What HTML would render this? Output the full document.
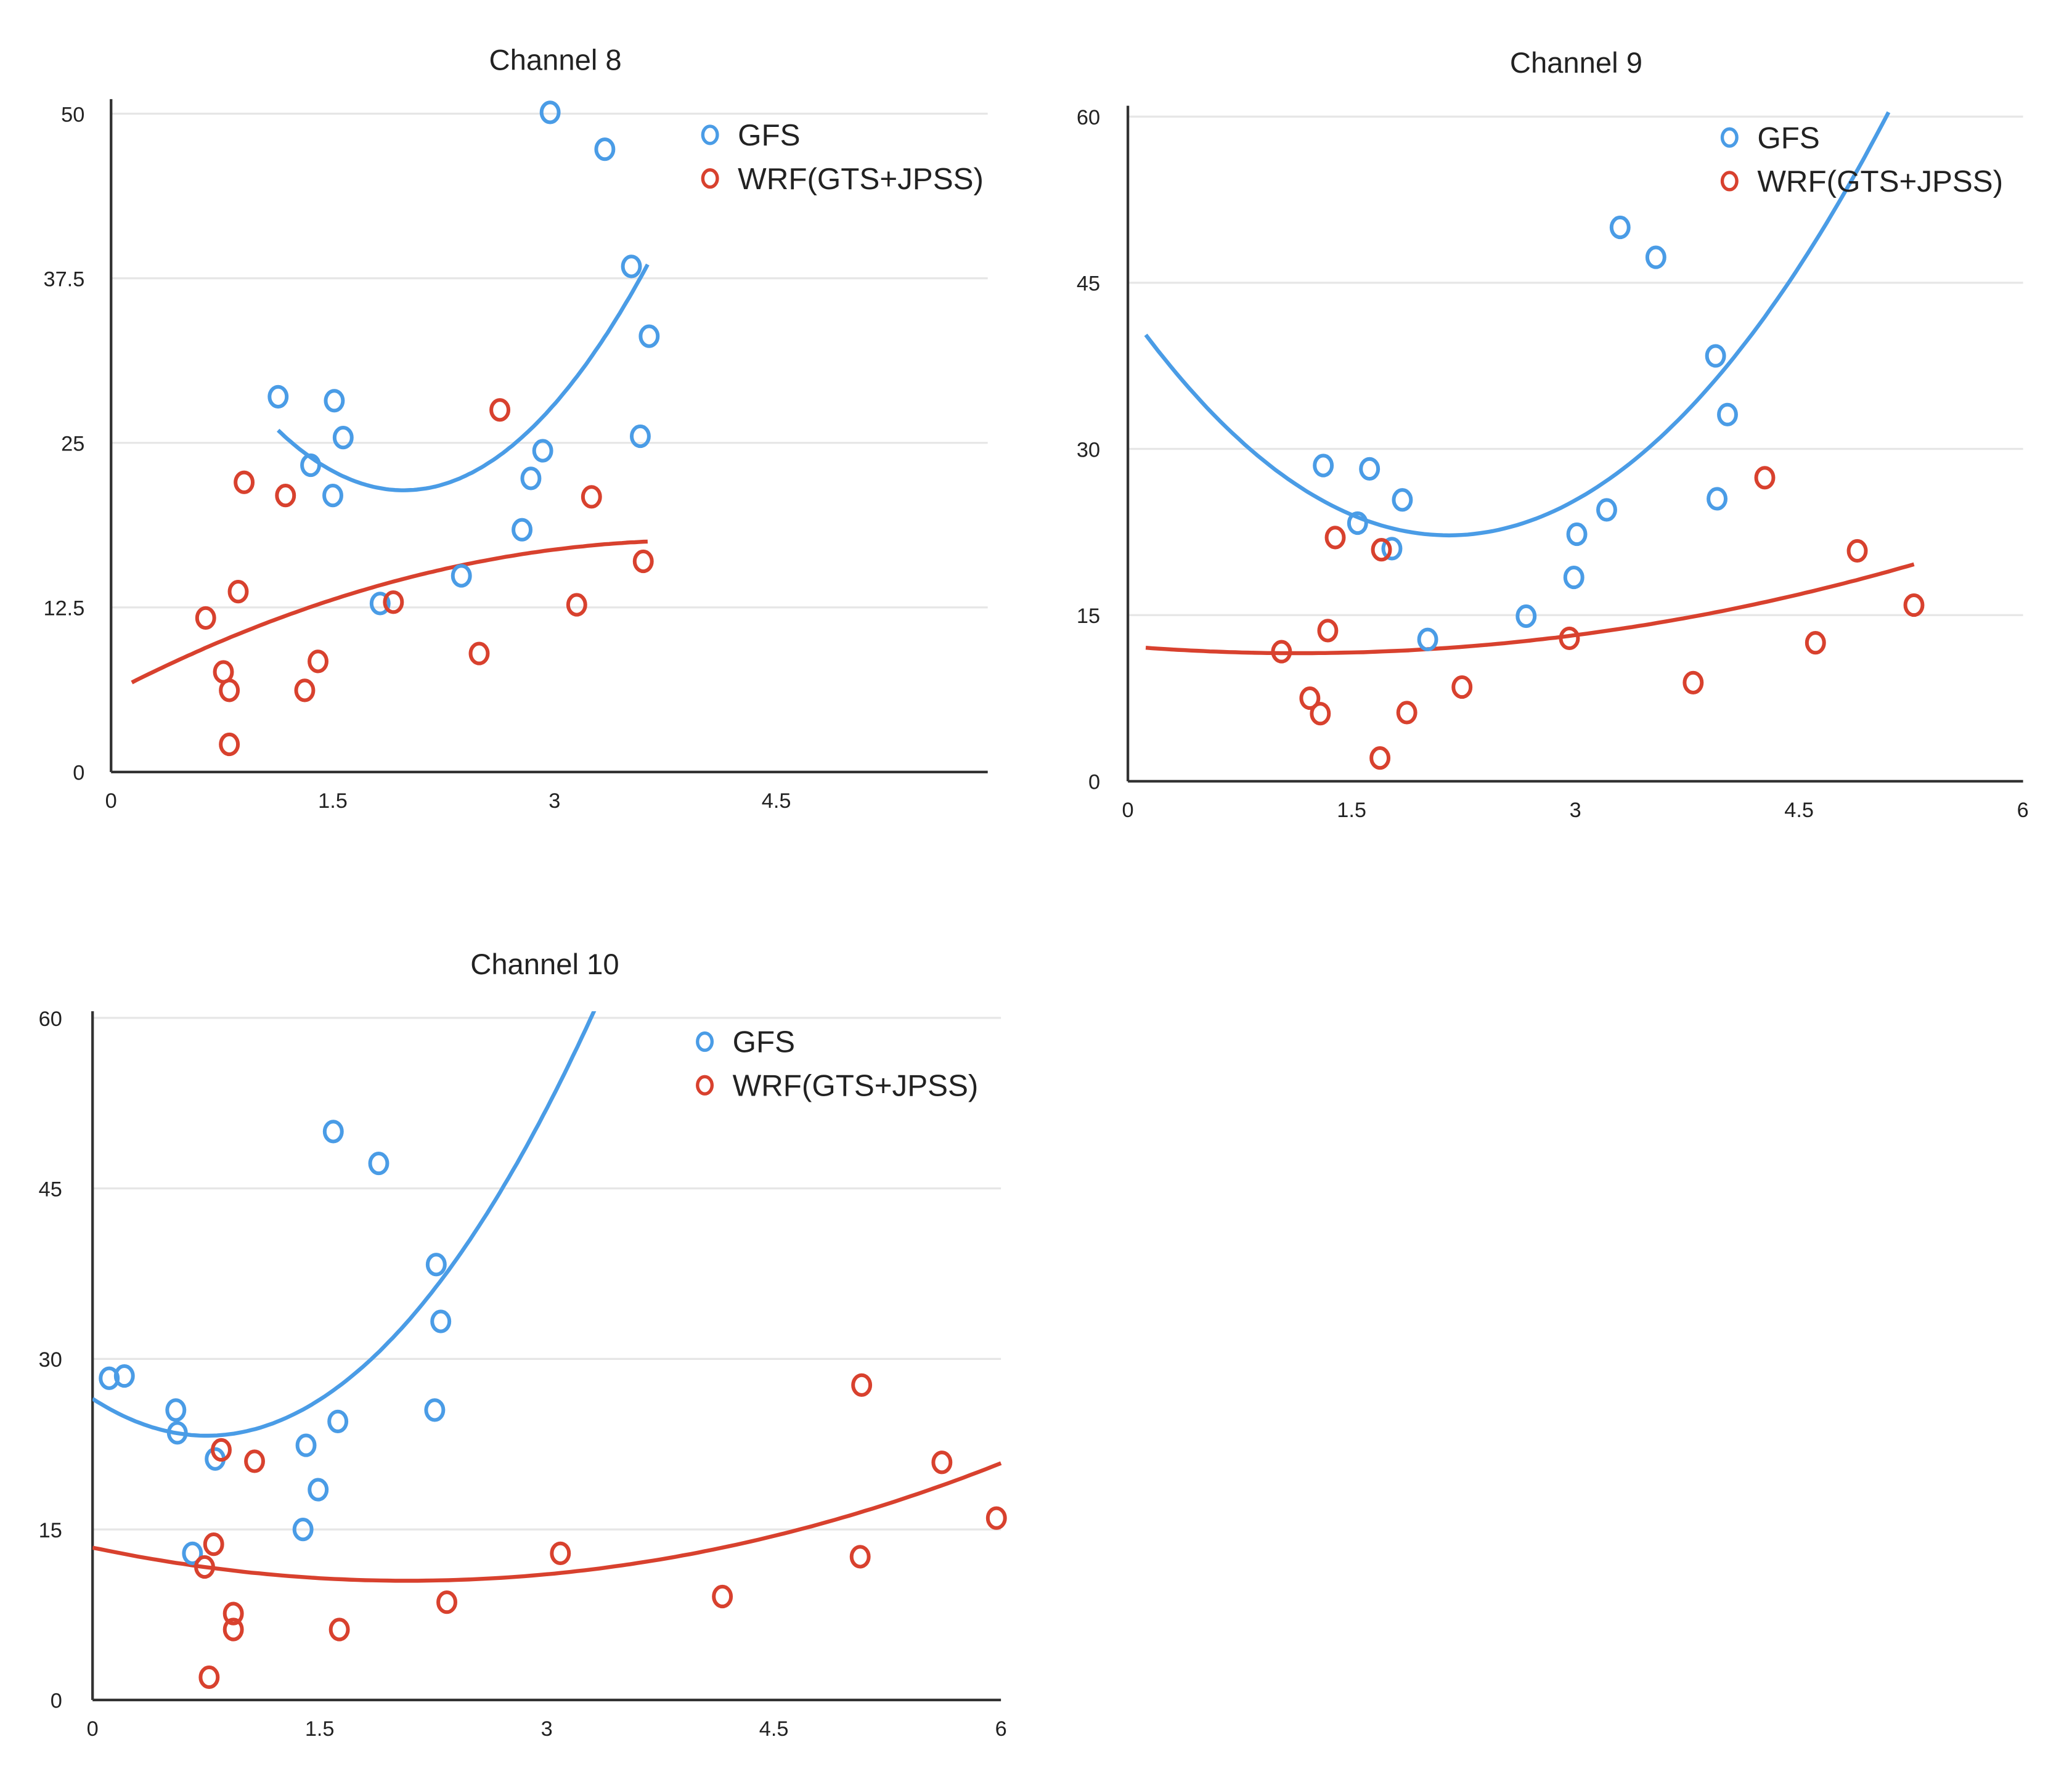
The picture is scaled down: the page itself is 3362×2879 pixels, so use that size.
<!DOCTYPE html>
<html><head><meta charset="utf-8">
<style>
html,body{margin:0;padding:0;background:#fff;}
svg{display:block;}
text{font-family:"Liberation Sans",sans-serif;fill:#222;}
</style></head>
<body>
<svg id="fig" width="3362" height="2879" viewBox="0 0 1567 1342" preserveAspectRatio="none" xmlns="http://www.w3.org/2000/svg"></svg>
<script>
// ---- Channel 8 data ----
const ch8GfsX = [1.13,1.51,1.57,1.35,1.50,1.82,2.37,2.78,2.84,2.92,2.97,3.34,3.52,3.64,3.58];
const ch8GfsY = [28.5,28.2,25.4,23.3,21.0,12.8,14.9,18.4,22.3,24.4,50.1,47.3,38.4,33.1,25.5];
const ch8WrfX = [0.90,1.18,0.64,0.86,0.76,0.80,0.80,1.31,1.40,1.91,2.49,2.63,3.15,3.25,3.60];
const ch8WrfY = [22.0,21.0,11.7,13.7,7.6,6.2,2.1,6.2,8.4,12.9,9.0,27.5,12.7,20.9,16.0];
const ch8GfsTrend = [46.1,-24.95,6.3];
const ch8WrfTrend = [6.0,5.83,-0.733];
const ch8XTicks = ["0","1.5","3","4.5"];
const ch8YTicks = ["0","12.5","25","37.5","50"];
// ---- Channel 9 data ----
const ch9GfsX = [1.31,1.62,1.84,1.54,1.77,2.01,2.67,2.99,3.01,3.21,3.30,3.54,3.94,4.02,3.95];
const ch9GfsY = [28.5,28.2,25.4,23.3,21.0,12.8,14.9,18.4,22.3,24.5,50.0,47.3,38.4,33.1,25.5];
const ch9WrfX = [1.39,1.70,1.03,1.34,1.22,1.29,1.69,1.87,2.24,2.96,3.79,4.27,4.61,4.89,5.27];
const ch9WrfY = [22.0,20.9,11.7,13.6,7.5,6.1,2.1,6.2,8.5,12.9,8.9,27.4,12.5,20.8,15.9];
const ch9GfsTrend = [42.5,-18.88,4.39];
const ch9WrfTrend = [12.17,-1.07,0.47];
const ch9XTicks = ["0","1.5","3","4.5","6"];
const ch9YTicks = ["0","15","30","45","60"];
// ---- Channel 10 data ----
const ch10GfsX = [0.11,0.21,0.55,0.56,0.81,0.66,1.39,1.49,1.41,1.62,1.59,1.89,2.27,2.30,2.26];
const ch10GfsY = [28.3,28.5,25.5,23.5,21.2,12.9,15.0,18.5,22.4,24.5,50.0,47.2,38.3,33.3,25.5];
const ch10WrfX = [0.85,1.07,0.74,0.80,0.93,0.93,0.77,1.63,2.34,3.09,4.16,5.08,5.07,5.61,5.97];
const ch10WrfY = [22.0,21.0,11.7,13.7,7.6,6.2,2.0,6.2,8.6,12.9,9.1,27.7,12.6,20.9,16.0];
const ch10GfsTrend = [26.5,-8.62,5.71];
const ch10WrfTrend = [13.4,-2.80,0.673];
const ch10XTicks = ["0","1.5","3","4.5","6"];
const ch10YTicks = ["0","15","30","45","60"];

const NS="http://www.w3.org/2000/svg";
const svg=document.getElementById('fig');
const BLUE="#4a9ce6", RED="#d8412e";
function mk(tag,attrs,parent){const e=document.createElementNS(NS,tag);for(const k in attrs)e.setAttribute(k,attrs[k]);(parent||svg).appendChild(e);return e;}

const charts=[
 {id:'ch8',title:'Channel 8',tx:420,ty:53,x0:84,xw:111.8,xMax:4.5,y0:584,yh:9.96,yMax:50,axisRight:747,axisTop:75,gridRight:747,xTickY:611,yTickX:64,
  gx:ch8GfsX,gy:ch8GfsY,wx:ch8WrfX,wy:ch8WrfY,gt:ch8GfsTrend,wt:ch8WrfTrend,gr:[1.13,3.63],wr:[0.14,3.63],xt:ch8XTicks,yt:ch8YTicks,
  lx:537,ly:102,legClip:746},
 {id:'ch9',title:'Channel 9',tx:1192,ty:55,x0:853,xw:112.8,xMax:6,y0:591,yh:8.38,yMax:60,axisRight:1530,axisTop:80,gridRight:1530,xTickY:618,yTickX:832,
  gx:ch9GfsX,gy:ch9GfsY,wx:ch9WrfX,wy:ch9WrfY,gt:ch9GfsTrend,wt:ch9WrfTrend,gr:[0.12,5.1],wr:[0.12,5.27],xt:ch9XTicks,yt:ch9YTicks,
  lx:1308,ly:104,legClip:2000},
 {id:'ch10',title:'Channel 10',tx:412,ty:737,x0:70,xw:114.5,xMax:6,y0:1286,yh:8.6,yMax:60,axisRight:757,axisTop:765,gridRight:757,xTickY:1313,yTickX:47,
  gx:ch10GfsX,gy:ch10GfsY,wx:ch10WrfX,wy:ch10WrfY,gt:ch10GfsTrend,wt:ch10WrfTrend,gr:[0,3.4],wr:[0,6],xt:ch10XTicks,yt:ch10YTicks,
  lx:533,ly:788,legClip:2000}
];

charts.forEach(c=>{
 const g=mk('g',{});
 
 
 const X=v=>c.x0+v*c.xw, Y=v=>c.y0-v*c.yh;
 const clipId='clip-'+c.id;
 const cp=mk('clipPath',{id:clipId},g);
 mk('rect',{x:c.x0,y:c.axisTop,width:c.axisRight-c.x0+10,height:c.y0-c.axisTop},cp);
 c.yt.forEach(t=>{
  const v=parseFloat(t), y=Y(v);
  if(v>0){const gl=mk('line',{x1:c.x0,x2:c.gridRight,y1:y,y2:y,stroke:'#e6e6e6','stroke-width':1.5},g);
   }
  const tl=mk('text',{x:c.yTickX,y:y+6,'text-anchor':'end','font-size':16},g);
  tl.textContent=t;
  
 });
 c.xt.forEach(t=>{
  const v=parseFloat(t);
  const tl=mk('text',{x:X(v),y:c.xTickY,'text-anchor':'middle','font-size':16},g);
  tl.textContent=t;
  
 });
 const ya=mk('line',{x1:c.x0,x2:c.x0,y1:c.axisTop,y2:c.y0,stroke:'#333','stroke-width':2},g);
 
 const xa=mk('line',{x1:c.x0,x2:c.axisRight,y1:c.y0,y2:c.y0,stroke:'#333','stroke-width':2},g);
 
 const tt=mk('text',{x:c.tx,y:c.ty,'text-anchor':'middle','font-size':22},g);
 tt.textContent=c.title;
 
 function trend(coef,range,color,name){
  let d='';
  for(let i=0;i<=120;i++){const x=range[0]+(range[1]-range[0])*i/120;const y=coef[0]+coef[1]*x+coef[2]*x*x;d+=(i?'L':'M')+X(x).toFixed(1)+' '+Y(y).toFixed(1);}
  const p=mk('path',{d:d,fill:'none',stroke:color,'stroke-width':3,'clip-path':'url(#'+clipId+')'},g);
  
 }
 trend(c.gt,c.gr,BLUE,'gfs-trend-line');
 trend(c.wt,c.wr,RED,'wrf-trend-line');
 function pts(xs,ys,color,name){
  xs.forEach((x,i)=>{
   const e=mk('ellipse',{cx:X(x),cy:Y(ys[i]),rx:6.5,ry:7.5,fill:'none',stroke:color,'stroke-width':2.8},g);
   
  });
 }
 pts(c.gx,c.gy,BLUE,'gfs-point');
 pts(c.wx,c.wy,RED,'wrf-point');
 const lg=mk('g',{},g);
 
 const lcp=mk('clipPath',{id:'lclip-'+c.id},lg);
 mk('rect',{x:c.lx-20,y:c.ly-30,width:c.legClip-(c.lx-20),height:80},lcp);
 const e1=mk('ellipse',{cx:c.lx,cy:c.ly,rx:5.5,ry:6.5,fill:'none',stroke:BLUE,'stroke-width':2.5},lg);
 
 const t1=mk('text',{x:c.lx+21,y:c.ly+8,'font-size':23},lg);t1.textContent='GFS';
 
 const e2=mk('ellipse',{cx:c.lx,cy:c.ly+33,rx:5.5,ry:6.5,fill:'none',stroke:RED,'stroke-width':2.5},lg);
 
 const t2=mk('text',{x:c.lx+21,y:c.ly+41,'font-size':23,'clip-path':'url(#lclip-'+c.id+')'},lg);t2.textContent='WRF(GTS+JPSS)';
 
});
</script>
</body></html>
